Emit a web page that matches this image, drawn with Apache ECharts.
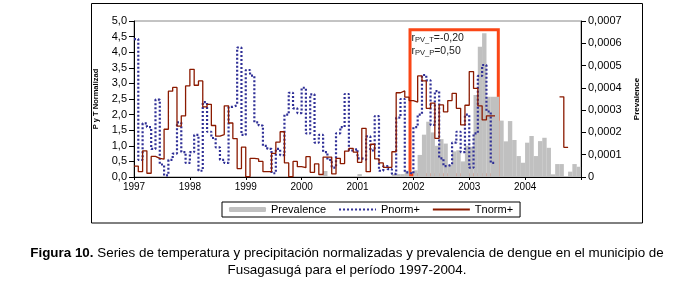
<!DOCTYPE html>
<html>
<head>
<meta charset="utf-8">
<script src="https://cdn.jsdelivr.net/npm/echarts@6/dist/echarts.min.js"></script>
<style>
  html, body { margin: 0; padding: 0; background: #fff; }
  #chart { width: 694px; height: 284px; }
</style>
</head>
<body>
<div id="chart"></div>
<script>
// 13 epidemiological periods per year, 1997-2004
const years = [1997, 1998, 1999, 2000, 2001, 2002, 2003, 2004];
const perYear = 13;

// one row per year
const prevalence = [
  0, 0, 0, 0, 0, 0, 0, 0, 0, 0, 0, 0, 0,
  0, 0, 0, 0, 0, 0, 0, 0, 0, 0, 0, 0, 0,
  0, 0, 0, 0, 0, 0, 0, 0, 0, 0, 0, 0, 0,
  0, 0, 0, 0, 0, 0.000027, 0, 0, 0, 0, 0, 0, 0,
  0.000013, 0, 0, 0, 0, 0, 0, 0, 0.000013, 0.000013, 0.000013, 0.000028, 0,
  0.00003, 0.000099, 0.00019, 0.000248, 0.0002, 0.00014, 0.00017, 0.00015, 0.000055, 0.000115, 0.00012, 0.00007, 0.00014,
  0.000136, 0.000368, 0.000585, 0.000645, 0.00036, 0.00036, 0.00036, 0.000253, 0.00016, 0.000251, 0.000166, 0.000094, 0.000064,
  0.000154, 0.000184, 0.000094, 0.000161, 0.000176, 0.000131, 0.000012, 0.000058, 0.000058, 0, 0.000024, 0.000058, 0.000046
];

const pnorm = [
  4.42, 0.55, 1.72, 1.60, 0.90, 2.48, 0.40, 0.05, 0.55, 0.75, 1.75, 0.80, 0.45,
  0.80, 1.35, 0.20, 2.40, 1.45, 1.25, 0.95, 0.55, 0.45, 2.25, 2.30, 4.15, 1.35,
  3.43, 3.25, 1.75, 1.65, 1.00, 0.90, 0.12, 0.90, 0.70, 2.00, 2.70, 2.20, 2.05,
  2.86, 1.40, 2.65, 1.10, 1.35, 0.80, 0.55, 0.30, 1.40, 1.60, 2.66, 0.85, 0.90,
  0.60, 0.55, 1.30, 0.85, 1.95, 0.20, 0.35, 0.25, 0.10, 1.90, 2.50, 0.15, 0.10,
  1.60, 2.00, 3.27, 3.10, 1.67, 2.75, 0.60, 0.35, 0.40, 1.10, 1.45, 0.80, 2.00,
  0.30, 1.40, 3.24, 3.59, 2.10, 0.45, null, null, null, null, null, null, null,
  null, null, null, null, null, null, null, null, null, null, null, null, null
];

const tnorm = [
  0.35, 0.17, 0.84, 0.12, 0.66, 0.60, 0.57, 1.53, 2.75, 2.87, 1.63, 1.96, 2.92,
  3.45, 2.94, 3.08, 2.25, 2.33, 1.65, 1.31, 1.36, 2.28, 1.73, 1.23, 0.27, 0.96,
  0.01, 0.60, 0.58, 0.50, 0.17, 0.17, 0.76, 1.12, 1.45, 0.45, 0.01, 0.50, 0.33,
  0.30, 0.65, 0.15, 0.42, 0.08, 0.64, 0.64, 0.10, 0.60, 0.43, 0.83, 0.92, 0.80,
  0.47, 1.56, 0.17, 1.05, 0.58, 0.45, 0.31, 0.31, 0.81, 2.70, 2.76, 2.56, 2.45,
  2.40, 3.24, 3.08, 2.20, 2.37, 1.24, 2.31, 2.09, 2.45, 2.68, 2.20, 1.67, 2.30,
  3.38, 2.84, 2.28, 1.83, 1.96, 1.96, null, null, null, null, null, null, null,
  null, null, null, null, null, null, null, null, 2.57, 0.95, null, null, null
];

// highlighted window (axis units)
const boxFrom = [2001.94, 0.07];
const boxTo = [2003.52, 4.72];

const periodStart = i => years[0] + i / perYear;
const comma = (v, d) => v.toFixed(d).replace('.', ',');

// step line: each value holds for its whole period
function stepData(vals) {
  const out = [];
  vals.forEach((v, i) => {
    if (v == null) return;
    out.push([periodStart(i), v]);
    if (vals[i + 1] == null) {
      out.push([periodStart(i + 1), v]);
      out.push([periodStart(i + 1), '-']);
    }
  });
  return out;
}

const font = "'Liberation Sans', Arial, sans-serif";
const blue = '#2f2f96';
const red = '#8b1a00';
const chart = echarts.init(document.getElementById('chart'));

chart.setOption({
  animation: false,
  textStyle: { fontFamily: font },
  grid: { left: 134, right: 113, top: 21, bottom: 107, show: true, borderColor: '#888', borderWidth: 1 },
  legend: {
    data: [
      { name: 'Prevalence' },
      { name: 'Pnorm+', itemStyle: { opacity: 0 } },
      { name: 'Tnorm+', itemStyle: { opacity: 0 } }
    ],
    left: 222,
    top: 202,
    padding: [2, 7],
    itemGap: 12,
    itemWidth: 37,
    itemHeight: 5,
    borderColor: '#000',
    borderWidth: 1,
    borderRadius: 0,
    selectedMode: false,
    textStyle: { fontSize: 11, color: '#000', fontFamily: font }
  },
  xAxis: {
    type: 'value',
    min: 1997,
    max: 2005,
    interval: 1,
    axisLine: { lineStyle: { color: '#000' } },
    axisTick: { length: 3, lineStyle: { color: '#000' } },
    axisLabel: { color: '#000', fontSize: 10, margin: 5, formatter: v => (v < 2005 ? String(v) : '') },
    splitLine: { show: false }
  },
  yAxis: [
    {
      type: 'value',
      min: 0,
      max: 5,
      interval: 0.5,
      name: 'P y T Normalizad',
      nameLocation: 'middle',
      nameGap: 34,
      nameRotate: 90,
      nameTextStyle: { fontWeight: 'bold', fontSize: 7.5, color: '#000' },
      axisLine: { show: true, lineStyle: { color: '#000' } },
      axisTick: { show: true, length: 5, lineStyle: { color: '#000' } },
      axisLabel: { color: '#000', fontSize: 11, margin: 7, formatter: v => comma(v, 1) },
      splitLine: { show: false }
    },
    {
      type: 'value',
      min: 0,
      max: 0.0007,
      interval: 0.0001,
      position: 'right',
      name: 'Prevalence',
      nameLocation: 'middle',
      nameGap: 47,
      nameRotate: 90,
      nameTextStyle: { fontWeight: 'bold', fontSize: 8, color: '#000' },
      axisLine: { show: true, lineStyle: { color: '#000' } },
      axisTick: { show: true, length: 5, lineStyle: { color: '#000' } },
      axisLabel: { color: '#000', fontSize: 11, margin: 7, formatter: v => (v === 0 ? '0' : comma(v, 4)) },
      splitLine: { show: false }
    }
  ],
  series: [
    {
      name: 'Prevalence',
      type: 'bar',
      yAxisIndex: 1,
      barWidth: 4.4,
      itemStyle: { color: '#c0c0c0' },
      data: prevalence.map((v, i) => [periodStart(i) + 0.5 / perYear, v]),
      z: 1
    },
    {
      name: 'Pnorm+',
      type: 'line',
      step: 'end',
      symbol: 'none',
      data: stepData(pnorm),
      lineStyle: { color: blue, width: 2.2, type: [2, 2] },
      itemStyle: { color: blue },
      z: 2
    },
    {
      name: 'Tnorm+',
      type: 'line',
      step: 'end',
      symbol: 'none',
      data: stepData(tnorm),
      lineStyle: { color: red, width: 1.3 },
      itemStyle: { color: red },
      z: 3
    },
    {
      name: 'window',
      type: 'line',
      data: [],
      z: 4,
      markArea: {
        silent: true,
        itemStyle: { color: 'rgba(0,0,0,0)', borderColor: '#fa4616', borderWidth: 3 },
        label: {
          show: true,
          position: 'insideTopLeft',
          distance: 3,
          formatter: '{r|r}{s|PV_T}{r|=-0,20}\n{r|r}{s|PV_P}{r|=0,50}',
          rich: {
            r: { fontSize: 10.5, lineHeight: 13, color: '#222', fontFamily: font },
            s: { fontSize: 7.5, lineHeight: 8, verticalAlign: 'bottom', color: '#222', fontFamily: font }
          }
        },
        data: [[{ xAxis: boxFrom[0], yAxis: boxFrom[1] }, { xAxis: boxTo[0], yAxis: boxTo[1] }]]
      }
    }
  ],
  graphic: [
    {
      type: 'rect',
      silent: true,
      shape: { x: 91.5, y: 3.5, width: 551, height: 219.5 },
      style: { fill: 'none', stroke: '#000', lineWidth: 1 }
    },
    {
      type: 'text',
      x: 347,
      y: 253,
      style: {
        text: '{b|Figura 10.} Series de temperatura y precipitación normalizadas y prevalencia de dengue en el municipio de',
        fontSize: 13.4,
        fontFamily: font,
        fill: '#000',
        align: 'center',
        verticalAlign: 'middle',
        rich: { b: { fontWeight: 'bold', fontSize: 13.4, fontFamily: font, fill: '#000' } }
      }
    },
    {
      type: 'text',
      x: 347,
      y: 270.5,
      style: {
        text: 'Fusagasugá para el período 1997-2004.',
        fontSize: 13.4,
        fontFamily: font,
        fill: '#000',
        align: 'center',
        verticalAlign: 'middle'
      }
    }
  ]
});
</script>
</body>
</html>
